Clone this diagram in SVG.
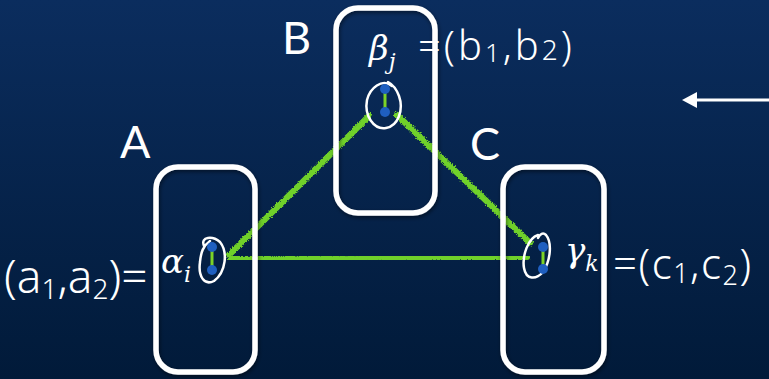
<svg xmlns="http://www.w3.org/2000/svg" width="769" height="379" viewBox="0 0 769 379">
<defs>
<linearGradient id="bg" x1="0" y1="0" x2="0" y2="1">
<stop offset="0" stop-color="#0b2d5e"/>
<stop offset="1" stop-color="#011a39"/>
</linearGradient>
<filter id="rough" x="-5%" y="-5%" width="110%" height="110%">
<feTurbulence type="fractalNoise" baseFrequency="0.8" numOctaves="2" seed="3" result="n"/>
<feDisplacementMap in="SourceGraphic" in2="n" scale="4" xChannelSelector="R" yChannelSelector="G"/>
</filter>
<filter id="glow" x="-10%" y="-10%" width="120%" height="120%">
<feGaussianBlur in="SourceAlpha" stdDeviation="2"/>
<feOffset dx="1" dy="2" result="b"/>
<feComponentTransfer><feFuncA type="linear" slope="0.5"/></feComponentTransfer>
<feMerge><feMergeNode/><feMergeNode in="SourceGraphic"/></feMerge>
</filter>
</defs>
<style>
.box{fill:none;stroke:#ffffff;stroke-width:5.5;filter:url(#glow)}
.lbl{font-family:Lato,"Open Sans",sans-serif;font-size:45px;fill:#ffffff}
.math{font-family:"DejaVu Serif","Liberation Serif",serif;font-style:italic;fill:#ffffff}
.hand{font-family:"Noto Sans","Open Sans",sans-serif;font-weight:300;fill:#ffffff}
.ell{fill:none;stroke:#ffffff;stroke-width:2.5;stroke-linecap:round}
.dot{fill:#1f5fc0}
.bond{stroke:#7cd327;stroke-width:3}
.edge{fill:none;stroke:#6fd12a;stroke-width:6;stroke-linecap:round;filter:url(#rough)}
</style>
<rect width="769" height="379" fill="url(#bg)"/>

<g id="connectors">
<path class="edge" d="M229,255 L369,116"/>
<path class="edge" d="M397,115 L530,243"/>
<path class="edge" d="M231,259 L527,257"/>
<line x1="769" y1="100" x2="694" y2="100" stroke="#ffffff" stroke-width="3"/>
<polygon points="682,100 697,92 697,108" fill="#ffffff"/>
</g>

<g id="node-A">
<rect class="box" x="156" y="167" width="99" height="205" rx="22"/>
<text class="lbl" x="120" y="158">A</text>
<text class="math" x="161" y="273" font-size="34">α<tspan font-size="22" dy="9">i</tspan></text>
<path class="ell" d="M204,246 C200,236 213,236 220,242 C228,252 226,272 214,281 C204,286 198,276 200,262 C201,252 203,246 210,241"/>
<line class="bond" x1="212" y1="247" x2="212" y2="270"/>
<circle class="dot" cx="212" cy="247" r="5"/>
<circle class="dot" cx="212" cy="270" r="5"/>
<text class="hand" x="4" y="293" font-size="46">(a<tspan font-size="28" dy="6">1</tspan><tspan dy="-6">,a</tspan><tspan font-size="28" dy="6">2</tspan><tspan dy="-6">)=</tspan></text>
</g>

<g id="node-B">
<rect class="box" x="336" y="8" width="99" height="205" rx="22"/>
<text class="lbl" x="282" y="54">B</text>
<text class="math" x="369" y="60" font-size="34">β<tspan font-size="22" dy="9">j</tspan></text>
<path class="ell" d="M392,86 C382,78 370,88 367,100 C364,116 374,130 386,128 C398,126 404,110 399,96 C396,88 392,84 388,82"/>
<line class="bond" x1="385" y1="89" x2="385" y2="112"/>
<circle class="dot" cx="385" cy="89" r="5"/>
<circle class="dot" cx="385" cy="112" r="5"/>
<text class="hand" x="418" y="60" font-size="40" letter-spacing="3">=(b<tspan font-size="26" dy="2">1</tspan><tspan dy="-2">,b</tspan><tspan font-size="28" dy="0">2</tspan><tspan dy="0">)</tspan></text>
</g>

<g id="node-C">
<rect class="box" x="503" y="167" width="101" height="205" rx="22"/>
<text class="lbl" x="470" y="160">C</text>
<text class="math" x="565" y="262" font-size="34">γ<tspan font-size="22" dy="9">k</tspan></text>
<path class="ell" d="M538,235 C528,238 522,256 524,268 C526,280 536,280 543,272 C551,260 552,242 546,235 C543,232 540,234 538,238"/>
<line class="bond" x1="543" y1="247" x2="543" y2="269"/>
<circle class="dot" cx="543" cy="247" r="5"/>
<circle class="dot" cx="543" cy="269" r="5"/>
<text class="hand" x="613" y="279" font-size="42" letter-spacing="1.5">=(c<tspan font-size="27" dy="4">1</tspan><tspan dy="-4">,c</tspan><tspan font-size="27" dy="6">2</tspan><tspan dy="-6">)</tspan></text>
</g>
</svg>
